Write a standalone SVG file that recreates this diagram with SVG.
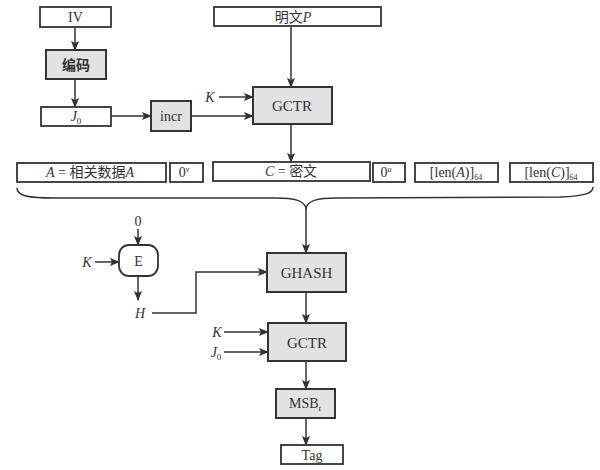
<svg xmlns="http://www.w3.org/2000/svg" width="600" height="470" viewBox="0 0 600 470">
<defs>
<marker id="ah" markerWidth="10" markerHeight="8" refX="9" refY="4" orient="auto" markerUnits="userSpaceOnUse">
<path d="M0,0 L10,4 L0,8 L2,4 Z" fill="#333"/>
</marker>
<style>
.box{fill:#fff;stroke:#333;stroke-width:1.8}
.gbox{fill:#e2e2e2;stroke:#333;stroke-width:2}
.t{font-family:"Liberation Serif","Noto Sans CJK SC",serif;font-size:14px;fill:#333;text-anchor:middle}
.big{font-size:15px}
.cjk{font-family:"Noto Sans CJK SC",sans-serif}
.i{font-style:italic}
.ln{fill:none;stroke:#333;stroke-width:1.5}
.ar{fill:none;stroke:#333;stroke-width:1.5;marker-end:url(#ah)}
</style>
</defs>
<rect width="600" height="470" fill="#fff"/>
<g id="connectors">
<line class="ar" x1="75" y1="27" x2="75" y2="50"/>
<line class="ar" x1="75" y1="79" x2="75" y2="107"/>
<line class="ar" x1="111" y1="116" x2="151" y2="116"/>
<line class="ar" x1="191" y1="116" x2="253" y2="116"/>
<line class="ar" x1="219" y1="97" x2="253" y2="97"/>
<line class="ar" x1="291" y1="26" x2="291" y2="87"/>
<line class="ar" x1="291" y1="124" x2="291" y2="162"/>
<path class="ln" d="M17,188 C17,196 28,198 55,198 L275,198 C296,198 304,201 306,208 C308,201 316,198 337,198 L560,197 C586,196 593,193 593,187"/>
<line class="ar" x1="306" y1="208" x2="306" y2="253"/>
<line class="ar" x1="138" y1="229" x2="138" y2="245"/>
<line class="ar" x1="95" y1="262" x2="119" y2="262"/>
<line class="ar" x1="138" y1="276" x2="138" y2="300"/>
<path class="ar" d="M152,313 L196,313 L196,272 L267,272"/>
<line class="ar" x1="306" y1="292" x2="306" y2="323"/>
<line class="ar" x1="224" y1="332" x2="268" y2="332"/>
<line class="ar" x1="224" y1="352" x2="268" y2="352"/>
<line class="ar" x1="306" y1="361" x2="306" y2="389"/>
<line class="ar" x1="306" y1="418" x2="306" y2="445"/>
</g>
<g id="iv"><rect class="box" x="40" y="7" width="71" height="20"/><text class="t" x="75.5" y="22">IV</text></g>
<g id="encode"><rect class="gbox" x="46" y="50" width="60" height="29"/><text class="t cjk" x="76" y="70" font-size="15" font-weight="bold">编码</text></g>
<g id="j0"><rect class="box" x="41" y="107" width="70" height="19"/><text class="t" x="76" y="121"><tspan class="i">J</tspan><tspan font-size="9" dy="3">0</tspan></text></g>
<g id="incr"><rect class="gbox" x="151" y="101" width="40" height="30"/><text class="t" x="171" y="121">incr</text></g>
<g id="plaintext"><rect class="box" x="214" y="7" width="167" height="19"/><text class="t" x="293" y="22"><tspan class="cjk">明文</tspan><tspan class="i">P</tspan></text></g>
<g id="k1"><text class="t i" x="210" y="102">K</text></g>
<g id="gctr1"><rect class="gbox" x="253" y="87" width="79" height="37"/><text class="t big" x="292" y="111">GCTR</text></g>
<g id="a"><rect class="box" x="17" y="163" width="149" height="19"/><text class="t" x="90" y="177"><tspan class="i">A</tspan> = <tspan class="cjk">相关数据</tspan><tspan class="i">A</tspan></text></g>
<g id="zv"><rect class="box" x="170" y="163" width="33" height="19"/><text class="t" x="184" y="177">0<tspan class="i" font-size="8" dy="-5">v</tspan></text></g>
<g id="c"><rect class="box" x="213" y="162" width="157" height="19"/><text class="t" x="291" y="176"><tspan class="i">C</tspan> = <tspan class="cjk">密文</tspan></text></g>
<g id="zu"><rect class="box" x="373" y="163" width="32" height="19"/><text class="t" x="386" y="177">0<tspan class="i" font-size="8" dy="-5">u</tspan></text></g>
<g id="lena"><rect class="box" x="415" y="163" width="83" height="19"/><text class="t" x="456" y="177">[len(<tspan class="i">A</tspan>)]<tspan font-size="8" dy="3">64</tspan></text></g>
<g id="lenc"><rect class="box" x="510" y="163" width="83" height="19"/><text class="t" x="551" y="177">[len(<tspan class="i">C</tspan>)]<tspan font-size="8" dy="3">64</tspan></text></g>
<g id="zero"><text class="t" x="138" y="226">0</text></g>
<g id="k2"><text class="t i" x="87" y="267">K</text></g>
<g id="e"><rect class="box" x="119" y="245" width="39" height="31" rx="10" ry="10" stroke-width="2.2"/><text class="t" x="138.5" y="266">E</text></g>
<g id="h"><text class="t i" x="140" y="318">H</text></g>
<g id="ghash"><rect class="gbox" x="267" y="253" width="79" height="39"/><text class="t big" x="306.5" y="278">GHASH</text></g>
<g id="k3"><text class="t i" x="217" y="337">K</text></g>
<g id="j0b"><text class="t" x="216" y="357"><tspan class="i">J</tspan><tspan font-size="9" dy="3">0</tspan></text></g>
<g id="gctr2"><rect class="gbox" x="268" y="323" width="78" height="38"/><text class="t big" x="307" y="348">GCTR</text></g>
<g id="msb"><rect class="gbox" x="276" y="389" width="59" height="29"/><text class="t" x="305" y="408">MSB<tspan class="i" font-size="9" dy="3">t</tspan></text></g>
<g id="tag"><rect class="box" x="281" y="445" width="62" height="19"/><text class="t" x="312" y="460">Tag</text></g>
</svg>
